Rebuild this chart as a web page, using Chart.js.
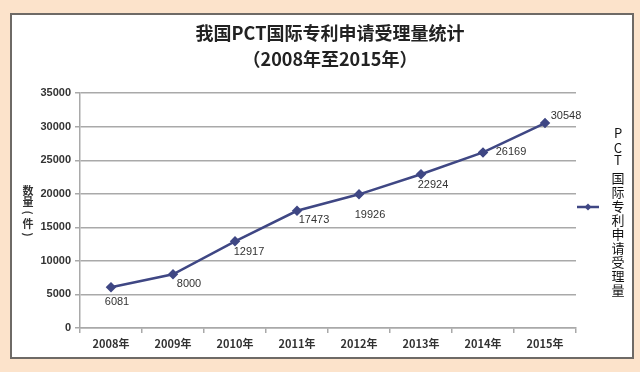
<!DOCTYPE html>
<html>
<head>
<meta charset="utf-8">
<script src="https://cdn.jsdelivr.net/npm/chart.js@4/dist/chart.umd.min.js"></script>
<style>
  html, body { margin: 0; padding: 0; background: #fce3cb; }
  #wrap { position: relative; width: 640px; height: 372px; }
  #panel {
    position: absolute; left: 10px; top: 13px; width: 620px; height: 342px;
    background: #fff; border: 2px solid #6e6a66;
  }
  #chart { position: absolute; left: 0; top: 0; }
</style>
</head>
<body>
<div id="wrap">
  <div id="panel"></div>
  <canvas id="chart" width="640" height="372"></canvas>
</div>
<script>
// --- dados ---
const years = ['2008年', '2009年', '2010年', '2011年', '2012年', '2013年', '2014年', '2015年'];
const pctApplications = [6081, 8000, 12917, 17473, 19926, 22924, 26169, 30548];
const seriesName = 'PCT 国际专利申请受理量';
const titleLines = ['我国PCT国际专利申请受理量统计', '（2008年至2015年）'];
const yAxisTitle = '数量（件）';
const yMax = 35000;
const yStep = 5000;

// --- estilo ---
const LINE_COLOR = '#3f4784';
const GRID_COLOR = '#a9a9a9';
const TEXT_COLOR = '#333';
const CJK = '"Noto Sans CJK SC", "Liberation Sans", sans-serif';
// deslocamento de cada rótulo de valor em relação ao ponto (px)
const labelOffsets = [[6, 15], [16, 10], [14, 11], [17, 9], [11, 21], [12, 11], [28, 0], [21, -7]];

// rótulos de valor ao lado dos pontos
const valueLabels = {
  id: 'valueLabels',
  afterDatasetsDraw(chart) {
    const { ctx } = chart;
    const meta = chart.getDatasetMeta(0);
    ctx.save();
    ctx.font = '11px "Liberation Sans", sans-serif';
    ctx.fillStyle = TEXT_COLOR;
    ctx.textAlign = 'center';
    ctx.textBaseline = 'middle';
    meta.data.forEach((pt, i) => {
      const [dx, dy] = labelOffsets[i];
      ctx.fillText(String(pctApplications[i]), pt.x + dx, pt.y + dy);
    });
    ctx.restore();
  }
};

// título vertical do eixo Y e legenda vertical à direita
const verticalTexts = {
  id: 'verticalTexts',
  afterDraw(chart) {
    const { ctx, chartArea } = chart;
    ctx.save();
    ctx.textAlign = 'center';
    ctx.textBaseline = 'middle';

    // eixo Y: caracteres empilhados
    ctx.font = 'bold 11px ' + CJK;
    ctx.fillStyle = TEXT_COLOR;
    const yChars = Array.from(yAxisTitle);
    const yMid = (chartArea.top + chartArea.bottom) / 2 + 2;
    const yStepPx = 11;
    yChars.forEach((ch, i) => {
      const y = yMid + (i - (yChars.length - 1) / 2) * yStepPx;
      if (ch === '（' || ch === '）') {
        ctx.save();
        ctx.translate(28, y);
        ctx.rotate(Math.PI / 2);
        ctx.fillText(ch === '（' ? '(' : ')', 0, 0);
        ctx.restore();
      } else {
        ctx.fillText(ch, 28, y);
      }
    });

    // legenda: marcador + texto vertical
    const legY = 207;
    ctx.strokeStyle = LINE_COLOR;
    ctx.lineWidth = 2.5;
    ctx.beginPath();
    ctx.moveTo(577, legY);
    ctx.lineTo(599, legY);
    ctx.stroke();
    ctx.fillStyle = LINE_COLOR;
    ctx.beginPath();
    ctx.moveTo(588, legY - 3.5);
    ctx.lineTo(591.5, legY);
    ctx.lineTo(588, legY + 3.5);
    ctx.lineTo(584.5, legY);
    ctx.closePath();
    ctx.fill();

    ctx.fillStyle = '#111';
    ctx.font = '13px ' + CJK;
    const chars = Array.from(seriesName).filter(c => c !== ' ');
    const gaps = [15, 12, 18];
    let y = 133;
    chars.forEach((ch, i) => {
      ctx.fillText(ch, 618, y);
      y += i < gaps.length ? gaps[i] : 14;
    });
    ctx.restore();
  }
};

new Chart(document.getElementById('chart'), {
  type: 'line',
  data: {
    labels: years,
    datasets: [{
      label: seriesName,
      data: pctApplications,
      borderColor: LINE_COLOR,
      backgroundColor: LINE_COLOR,
      borderWidth: 2.5,
      pointStyle: 'rectRot',
      pointRadius: 3.5,
      pointHoverRadius: 3.5,
      tension: 0
    }]
  },
  options: {
    responsive: false,
    animation: false,
    layout: { padding: { left: 20, right: 0, top: 0, bottom: 0 } },
    plugins: {
      legend: { display: false },
      tooltip: { enabled: false },
      title: {
        display: true,
        text: titleLines,
        color: '#222',
        font: { family: CJK, size: 18, weight: 'bold', lineHeight: 1.45 },
        padding: { top: 20, bottom: 21 }
      }
    },
    scales: {
      x: {
        offset: true,
        grid: {
          offset: true,
          drawOnChartArea: false,
          drawTicks: true,
          tickLength: 5,
          color: GRID_COLOR,
          lineWidth: 1.5
        },
        border: { display: true, color: GRID_COLOR, width: 1.5 },
        ticks: {
          color: TEXT_COLOR,
          font: { family: CJK, size: 11, weight: 'bold' },
          padding: 4,
          maxRotation: 0
        },
        afterFit: s => { s.height = 44; }
      },
      y: {
        min: 0,
        max: yMax,
        grid: {
          color: GRID_COLOR,
          lineWidth: 1.5,
          tickLength: 5
        },
        border: { display: true, color: GRID_COLOR, width: 1.5 },
        ticks: {
          stepSize: yStep,
          color: TEXT_COLOR,
          font: { family: '"Liberation Sans", sans-serif', size: 11, weight: 'bold' },
          padding: 4,
          callback: v => String(v)
        },
        afterFit: s => { s.width = 60; }
      },
      // eixo vazio só para reservar espaço da legenda à direita
      y2: {
        position: 'right',
        display: true,
        grid: { display: false, drawTicks: false },
        border: { display: false },
        ticks: { display: false },
        afterFit: s => { s.width = 64; }
      }
    }
  },
  plugins: [valueLabels, verticalTexts]
});
</script>
</body>
</html>
